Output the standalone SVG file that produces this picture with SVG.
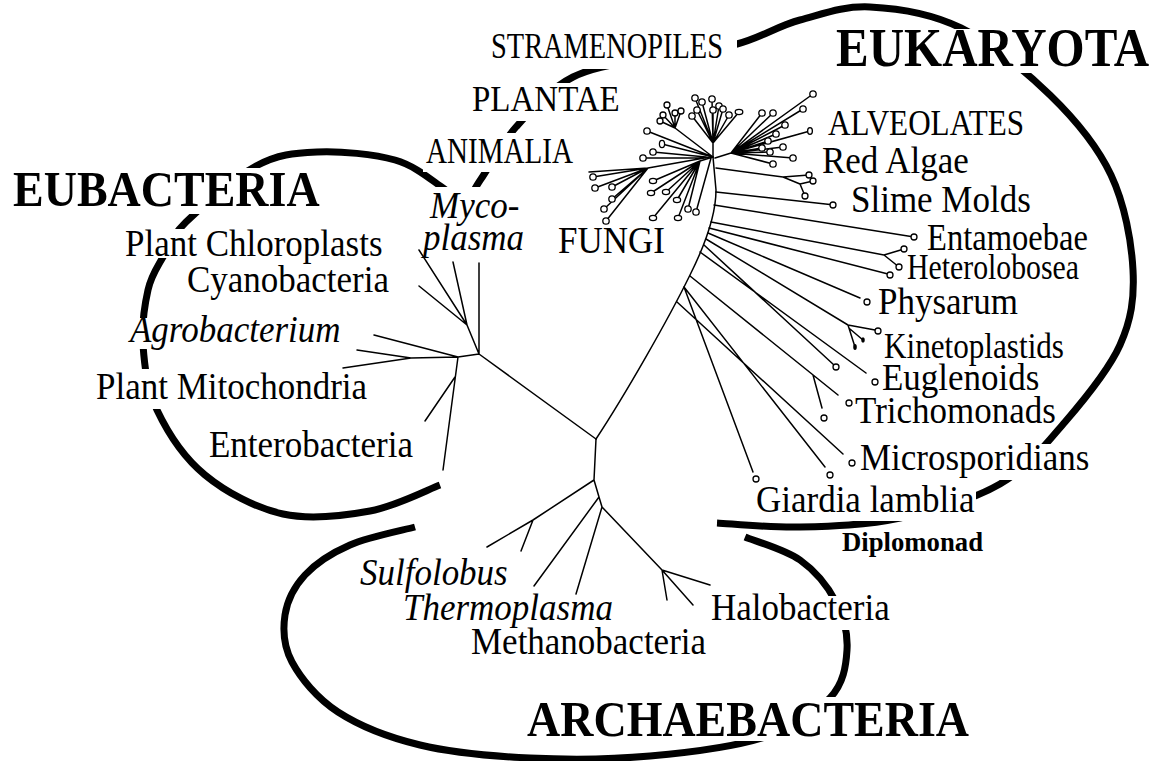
<svg xmlns="http://www.w3.org/2000/svg" width="1162" height="761" viewBox="0 0 1162 761">
<style>
.t{font-family:"Liberation Serif","Times New Roman",serif;font-size:35px;fill:#000}
.i{font-style:italic}
.h{font-weight:bold;font-size:46px}
.d{font-weight:bold;font-size:25px}
.o{fill:none;stroke:#000;stroke-width:7;stroke-linecap:butt;stroke-linejoin:round}
.e{fill:none;stroke:#000;stroke-width:1.5;stroke-linecap:round;stroke-linejoin:round}
.c{fill:#fff;stroke:#000;stroke-width:1.3}
.b{fill:#000}
</style>
<defs>
<mask id="gaps" maskUnits="userSpaceOnUse" x="0" y="0" width="1162" height="761">
<rect x="0" y="0" width="1162" height="761" fill="#fff"/>
<rect x="10" y="168" width="315" height="46" fill="#000"/>
<rect x="120" y="229" width="268" height="29" fill="#000"/>
<rect x="127" y="318" width="218" height="31" fill="#000"/>
<rect x="92" y="369" width="278" height="40" fill="#000"/>
<rect x="426" y="187" width="98" height="38" fill="#000"/>
<rect x="423" y="133" width="155" height="39" fill="#000"/>
<rect x="469" y="83" width="155" height="38" fill="#000"/>
<rect x="487" y="30" width="250" height="39" fill="#000"/>
<rect x="830" y="29" width="332" height="44" fill="#000"/>
<rect x="856" y="444" width="236" height="36" fill="#000"/>
<rect x="752" y="486" width="224" height="35" fill="#000"/>
<rect x="708" y="596" width="184" height="34" fill="#000"/>
<rect x="524" y="697" width="448" height="44" fill="#000"/>
</mask>
</defs>
<rect width="1162" height="761" fill="#fff"/>
<g id="domain-outlines" mask="url(#gaps)">
<path id="outline-eubacteria-eukaryota" class="o" d="M440,485 C428.3,489.3 396.2,506.2 370,511 C343.8,515.8 310.5,520 283,514 C255.5,508 226,492.3 205,475 C184,457.7 167.3,431.7 157,410 C146.7,388.3 144.5,365 143,345 C141.5,325 144.7,304.7 148,290 C151.3,275.3 156.7,268.3 163,257 C169.3,245.7 170.5,237.2 186,222 C201.5,206.8 234.2,177.7 256,166 C277.8,154.3 293.8,153 317,152 C340.2,151 374,154 395,160 C416,166 431.8,180.5 443,188 C454.2,195.5 455.7,206.5 462,205 C468.3,203.5 472,192 481,179 C490,166 500.7,144 516,127 C531.3,110 549.8,88.7 573,77 C596.2,65.3 627.7,62.8 655,57 C682.3,51.2 712.8,50.2 737,44 C761.2,37.8 777.8,25.8 800,20 C822.2,14.2 843.2,5.7 870,7 C896.8,8.3 931,13.3 961,28 C991,42.7 1025,70.5 1050,95 C1075,119.2 1097.2,145.8 1111,175 C1124.8,204.2 1131.5,241.7 1133,270 C1134.5,298.3 1131.3,319.7 1120,345 C1108.7,370.3 1085,398.8 1065,422 C1045,445.2 1027.5,468 1000,484 C972.5,500 933.3,510.8 900,518 C866.7,525.2 830.5,526.2 800,527 C769.5,527.8 730.8,523.7 717,523"/>
<path id="outline-archaebacteria" class="o" d="M745,537 C754.2,540.8 784.8,549.2 800,560 C815.2,570.8 828.2,587 836,602 C843.8,617 848,634 847,650 C846,666 843.7,683.5 830,698 C816.3,712.5 795,727.3 765,737 C735,746.7 689.2,752.5 650,756 C610.8,759.5 568.3,759.8 530,758 C491.7,756.2 452,752.7 420,745 C388,737.3 359.3,725.8 338,712 C316.7,698.2 300.8,678.2 292,662 C283.2,645.8 282.8,629.5 285,615 C287.2,600.5 294.2,586.7 305,575 C315.8,563.3 331.7,553 350,545 C368.3,537 404.2,530 415,527"/>
</g>
<g id="connectors">
<path id="trunk" class="e" d="M596,439 C625,395 668,320 690,275 C705,245 716,215 716,190 L713,157"/>
<path id="eubacteria-tree" class="e" d="M596,439 L479,354 L479,263 M479,354 L467,325 L419,250 M467,325 L419,286 M467,325 L453,262 M479,354 L458,357 L374,335 M458,357 L411,358 L357,350 M411,358 L343,368 M458,357 L443,470 M455,377 L425,421"/>
<path id="archaea-tree" class="e" d="M596,439 L594,480 L533,520 L487,547 M533,520 L521,551 M594,480 L599,497 L534,586 M599,497 L602,507 L576,594 M602,507 L662,570 L693,605 M662,570 L710,585 M662,570 L667,600"/>
<path id="crown-top" class="e" d="M713,157 L713,143 M713,143 L695,98 M713,143 L702,102 M713,143 L712,99 M713,143 L719,106 M713,143 L723,109 M713,143 L729,115 M713,143 L739,112 M713,143 L692,116 M713,143 L697,110 M713,143 L713,110"/>
<path id="crown-left-up" class="e" d="M713,157 L647,131 M713,157 L662,144 M713,157 L675,128 L667,105 M675,128 L663,115 M675,128 L660,121 M675,128 L675,113 M675,128 L681,111"/>
<path id="crown-left-down" class="e" d="M710,157 L648,168 L593,177 M648,168 L595,188 M648,168 L612,187 M648,168 L612,199 M648,168 L604,209 M648,168 L606,221 M648,168 L589,172 M706,158 L643,158 M706,157 L653,152"/>
<path id="crown-center-down" class="e" d="M713,157 L700,161 L653,181 M700,161 L651,193 M700,161 L653,218 M700,161 L666,192 M700,161 L677,200 M700,161 L678,218 M700,161 L688,209 M711,158 L696,212"/>
<path id="crown-right" class="e" d="M715,158 L731,153 L762,113 M731,153 L773,113 M731,153 L813,94 M731,153 L803,109 M731,153 L785,125 M731,153 L776,134 M731,153 L768,141 M731,153 L762,148 M731,153 L770,152 M731,153 L783,147 M731,153 L810,131 M731,153 L793,158 M731,153 L773,164"/>
<path id="red-algae-branch" class="e" d="M716,168 L783,177 L809,175 M783,177 L800,184 L813,181 M800,184 L805,196"/>
<path id="protist-branches" class="e" d="M716,192 L830,204.5 M714,205 L911,236.5 M711,222 L884,255 L904,249 M884,255 L899,267 M709,228 L888,274 M708,233 L860,298 M706,239 L848,325 L875,330 M848,325 L855,347 M850,329 L863,340 M704,245 L834,365 M700,252 L866,373 M690,276 L838,395 M813,375 L822,408 M677,302 L843,454 M684,287 L825,467 M684,287 L753,472"/>
</g>
<g id="leaf-tips">
<circle class="c" cx="695" cy="98" r="3.2"/><circle class="c" cx="702" cy="102" r="3.2"/><circle class="c" cx="712" cy="99" r="3.2"/><circle class="c" cx="719" cy="106" r="3.2"/><circle class="c" cx="723" cy="109" r="3.2"/><circle class="c" cx="729" cy="115" r="3.2"/><ellipse class="c" cx="739" cy="112" rx="3.8" ry="2.6"/><circle class="c" cx="692" cy="116" r="3.2"/><circle class="c" cx="697" cy="110" r="3.2"/><circle class="c" cx="713" cy="110" r="3.2"/>
<circle class="c" cx="647" cy="131" r="3.2"/><ellipse class="c" cx="662" cy="144" rx="2.6" ry="3.6"/><circle class="c" cx="667" cy="105" r="3"/><circle class="c" cx="663" cy="115" r="3"/><circle class="c" cx="660" cy="121" r="3"/><circle class="c" cx="675" cy="113" r="3"/><circle class="c" cx="681" cy="111" r="3"/>
<circle class="c" cx="593" cy="177" r="3.2"/><circle class="c" cx="595" cy="188" r="3.2"/><circle class="c" cx="612" cy="187" r="3.2"/><circle class="c" cx="612" cy="199" r="3.2"/><circle class="c" cx="604" cy="209" r="3.2"/><circle class="c" cx="606" cy="221" r="3.2"/><circle class="c" cx="643" cy="158" r="3.2"/><circle class="c" cx="653" cy="152" r="3.2"/>
<ellipse class="c" cx="653" cy="181" rx="3.6" ry="2.6"/><ellipse class="c" cx="651" cy="193" rx="3.6" ry="2.6"/><ellipse class="c" cx="653" cy="218" rx="3.6" ry="2.6"/><ellipse class="c" cx="666" cy="192" rx="3.6" ry="2.6"/><ellipse class="c" cx="677" cy="200" rx="3.6" ry="2.6"/><ellipse class="c" cx="678" cy="218" rx="3.6" ry="2.6"/><circle class="c" cx="688" cy="209" r="3.2"/><circle class="c" cx="696" cy="212" r="3.2"/>
<circle class="c" cx="762" cy="113" r="3.2"/><circle class="c" cx="773" cy="113" r="3.2"/><circle class="c" cx="813" cy="94" r="3.2"/><circle class="c" cx="803" cy="109" r="3.2"/><circle class="c" cx="785" cy="125" r="3.2"/><circle class="c" cx="776" cy="134" r="3.2"/><circle class="c" cx="768" cy="141" r="3.2"/><circle class="c" cx="762" cy="148" r="3.2"/><circle class="c" cx="770" cy="152" r="3.2"/><circle class="c" cx="783" cy="147" r="3.2"/><ellipse class="c" cx="810" cy="131" rx="2.4" ry="3.4"/><circle class="c" cx="793" cy="158" r="3.2"/><circle class="c" cx="773" cy="164" r="3.2"/>
<circle class="c" cx="809" cy="175" r="3"/><circle class="c" cx="813" cy="181" r="3"/><circle class="c" cx="805" cy="196" r="3"/>
<circle class="c" cx="833" cy="205" r="3"/><circle class="c" cx="914" cy="237" r="3"/><circle class="c" cx="904" cy="249" r="3"/><circle class="c" cx="899" cy="267" r="3"/><circle class="c" cx="890" cy="275" r="3"/><circle class="c" cx="867" cy="302" r="3"/><circle class="c" cx="878" cy="331" r="3"/><circle class="c" cx="836" cy="367" r="3"/><circle class="c" cx="875" cy="382" r="3"/><circle class="c" cx="849" cy="403" r="3"/><circle class="c" cx="824" cy="418" r="3"/><circle class="c" cx="852" cy="463" r="3"/><circle class="c" cx="830" cy="475" r="3"/><circle class="c" cx="756" cy="479" r="3"/>
<ellipse class="b" cx="855" cy="347" rx="1.8" ry="3"/><ellipse class="b" cx="863" cy="340" rx="1.8" ry="2.8"/>
</g>
<g id="labels">
<g id="n-stramenopiles"><text class="t" style="font-size:33px" transform="translate(491,58) scale(1,1.08)" textLength="232" lengthAdjust="spacingAndGlyphs">STRAMENOPILES</text></g>
<g id="n-plantae"><text class="t" style="font-size:33px" transform="translate(472,111) scale(1,1.08)">PLANTAE</text></g>
<g id="n-animalia"><text class="t" style="font-size:33px" transform="translate(426,163) scale(1,1.08)" textLength="147" lengthAdjust="spacingAndGlyphs">ANIMALIA</text></g>
<g id="n-eukaryota"><text class="t h" style="font-size:49px" transform="translate(836,66) scale(1,1.1)">EUKARYOTA</text></g>
<g id="n-eubacteria"><text class="t h" transform="translate(13,206) scale(1,1.12)">EUBACTERIA</text></g>
<g id="n-mycoplasma"><text class="t i" transform="translate(430,218) scale(1,1.08)">Myco-</text><text class="t i" transform="translate(423,250) scale(1,1.08)">plasma</text></g>
<g id="n-fungi"><text class="t" transform="translate(558,253) scale(1,1.08)">FUNGI</text></g>
<g id="n-chloroplasts"><text class="t" transform="translate(125,256) scale(1,1.08)">Plant Chloroplasts</text></g>
<g id="n-cyanobacteria"><text class="t" transform="translate(187,292) scale(1,1.08)">Cyanobacteria</text></g>
<g id="n-agrobacterium"><text class="t i" transform="translate(130,342) scale(1,1.08)">Agrobacterium</text></g>
<g id="n-mitochondria"><text class="t" transform="translate(96,399) scale(1,1.08)">Plant Mitochondria</text></g>
<g id="n-enterobacteria"><text class="t" transform="translate(209,457) scale(1,1.08)">Enterobacteria</text></g>
<g id="n-alveolates"><text class="t" style="font-size:34px" transform="translate(828,135) scale(1,1.08)" textLength="196" lengthAdjust="spacingAndGlyphs">ALVEOLATES</text></g>
<g id="n-red-algae"><text class="t" transform="translate(822,173) scale(1,1.08)">Red Algae</text></g>
<g id="n-slime-molds"><text class="t" transform="translate(851,212) scale(1,1.08)">Slime Molds</text></g>
<g id="n-entamoebae"><text class="t" transform="translate(927,250) scale(1,1.08)" textLength="161" lengthAdjust="spacingAndGlyphs">Entamoebae</text></g>
<g id="n-heterolobosea"><text class="t" style="font-size:34px" transform="translate(907,279) scale(1,1.08)" textLength="172" lengthAdjust="spacingAndGlyphs">Heterolobosea</text></g>
<g id="n-physarum"><text class="t" transform="translate(878,314) scale(1,1.08)">Physarum</text></g>
<g id="n-kinetoplastids"><text class="t" style="font-size:34px" transform="translate(884,358) scale(1,1.08)" textLength="180" lengthAdjust="spacingAndGlyphs">Kinetoplastids</text></g>
<g id="n-euglenoids"><text class="t" transform="translate(882,390) scale(1,1.08)">Euglenoids</text></g>
<g id="n-trichomonads"><text class="t" transform="translate(855,423) scale(1,1.08)">Trichomonads</text></g>
<g id="n-microsporidians"><text class="t" transform="translate(860,470) scale(1,1.08)">Microsporidians</text></g>
<g id="n-giardia"><text class="t" transform="translate(756,512) scale(1,1.08)">Giardia lamblia</text></g>
<g id="n-diplomonad"><text class="t d" transform="translate(842,551) scale(1,1.05)" textLength="141" lengthAdjust="spacingAndGlyphs">Diplomonad</text></g>
<g id="n-sulfolobus"><text class="t i" transform="translate(360,585) scale(1,1.08)">Sulfolobus</text></g>
<g id="n-thermoplasma"><text class="t i" transform="translate(403,620) scale(1,1.08)">Thermoplasma</text></g>
<g id="n-methanobacteria"><text class="t" transform="translate(471,654) scale(1,1.08)">Methanobacteria</text></g>
<g id="n-halobacteria"><text class="t" transform="translate(711,620) scale(1,1.08)">Halobacteria</text></g>
<g id="n-archaebacteria"><text class="t h" transform="translate(527,736) scale(1,1.12)">ARCHAEBACTERIA</text></g>
</g>
</svg>
